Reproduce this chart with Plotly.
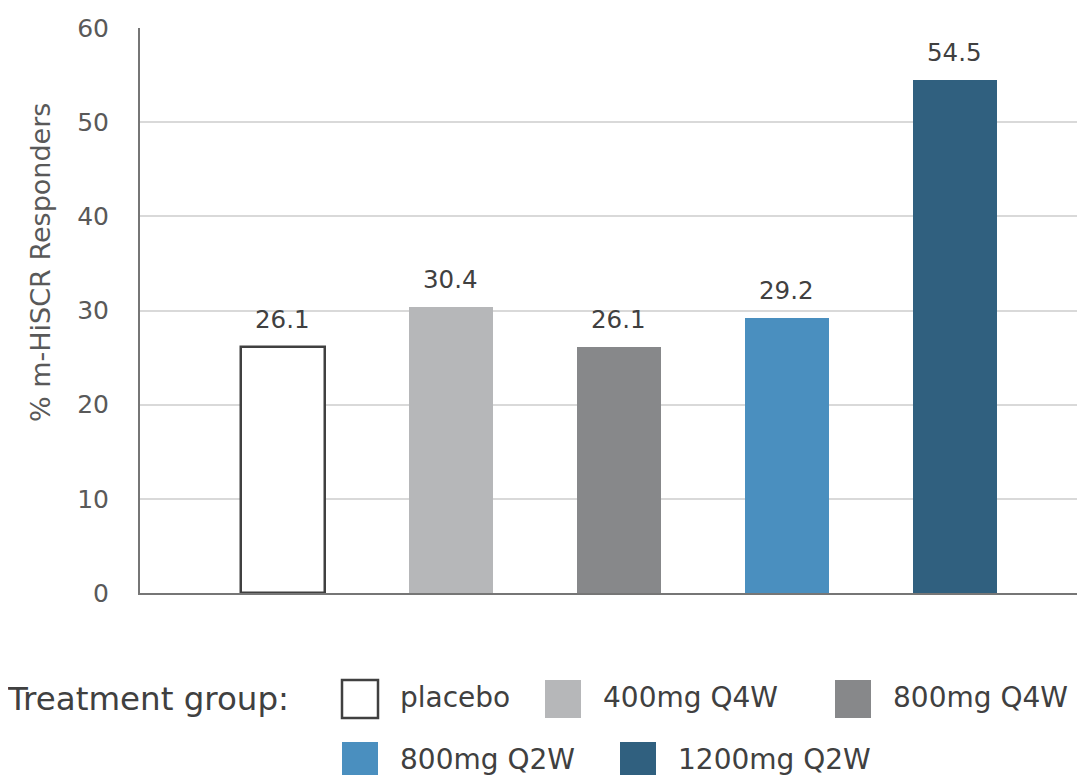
import plotly.graph_objects as go

# ---- data ----
groups = ["placebo", "400mg Q4W", "800mg Q4W", "800mg Q2W", "1200mg Q2W"]
responders = [26.1, 30.4, 26.1, 29.2, 54.5]
labels = ["26.1", "30.4", "26.1", "29.2", "54.5"]
y_ticks = [0, 10, 20, 30, 40, 50, 60]
y_title = "% m-HiSCR Responders"
legend_title = "Treatment group:"

# ---- styles ----
fill_colors = ["#FFFFFF", "#B6B7B9", "#87888A", "#4A8FBF", "#30607F"]
line_colors = ["#404040", "#B6B7B9", "#87888A", "#4A8FBF", "#30607F"]
line_widths = [2.5, 0, 0, 0, 0]
FONT = "DejaVu Sans"
OFF = 8  # page body margin
W, H = 1085 - OFF, 775 - OFF
L, R, T, B = 140 - OFF, 0, 28 - OFF, 182
PW, PH = W - L - R, H - T - B


def px_x(px):
    return (px - OFF - L) / PW


def px_y(py):
    return (T + PH - (py - OFF)) / PH


xpos = list(range(len(groups)))

fig = go.Figure()
fig.add_trace(go.Bar(
    x=xpos, y=responders, width=0.5,
    marker=dict(color=fill_colors, line=dict(color=line_colors, width=line_widths)),
    showlegend=False, hoverinfo="skip",
))

annotations = []
for xi, v, lab in zip(xpos, responders, labels):
    annotations.append(dict(x=xi, y=v, xref="x", yref="y", text=lab, showarrow=False,
                            yanchor="bottom", yshift=11,
                            font=dict(family=FONT, size=24.5, color="#404040")))

# y-axis title
annotations.append(dict(x=px_x(40), y=px_y(263), xref="paper", yref="paper", text=y_title,
                        textangle=-90, showarrow=False, xanchor="center", yanchor="middle",
                        font=dict(family=FONT, size=27, color="#595959")))

# legend (drawn manually to match large swatches)
annotations.append(dict(x=px_x(5), y=px_y(699), xref="paper", yref="paper", text=legend_title,
                        showarrow=False, xanchor="left", yanchor="middle",
                        font=dict(family=FONT, size=32.5, color="#404040")))
leg_pos = [(342, 680), (545, 680), (835, 680), (342, 742), (620, 742)]
shapes = []
sw, sh = 36, 38
for (lx, ly), name, fc, lc, lw in zip(leg_pos, groups, fill_colors, line_colors, line_widths):
    shapes.append(dict(type="rect", xref="paper", yref="paper",
                       x0=px_x(lx), x1=px_x(lx + sw), y0=px_y(ly), y1=px_y(ly + sh),
                       fillcolor=fc, line=dict(color=lc, width=lw)))
    annotations.append(dict(x=px_x(lx + sw + 20), y=px_y(ly + sh / 2 - 2), xref="paper", yref="paper",
                            text=name, showarrow=False, xanchor="left", yanchor="middle",
                            font=dict(family=FONT, size=28, color="#404040")))

fig.update_layout(
    width=W, height=H,
    margin=dict(l=L, r=R, t=T, b=B, autoexpand=False),
    paper_bgcolor="white", plot_bgcolor="white",
    bargap=0, showlegend=False,
    annotations=annotations, shapes=shapes,
    font=dict(family=FONT, color="#595959"),
)
fig.update_xaxes(range=[-0.851, 4.774], showticklabels=False, showgrid=False, zeroline=False,
                 showline=True, linecolor="#767676", linewidth=2, ticks="", fixedrange=True)
fig.update_yaxes(range=[0, 60], tickvals=y_ticks, ticktext=[str(t) for t in y_ticks],
                 showgrid=True, gridcolor="#D9D9D9", gridwidth=1.5, zeroline=False,
                 showline=True, linecolor="#767676", linewidth=2, ticks="",
                 ticklabelstandoff=24,
                 tickfont=dict(family=FONT, size=25, color="#595959"), fixedrange=True)

fig.write_html("out.html")
